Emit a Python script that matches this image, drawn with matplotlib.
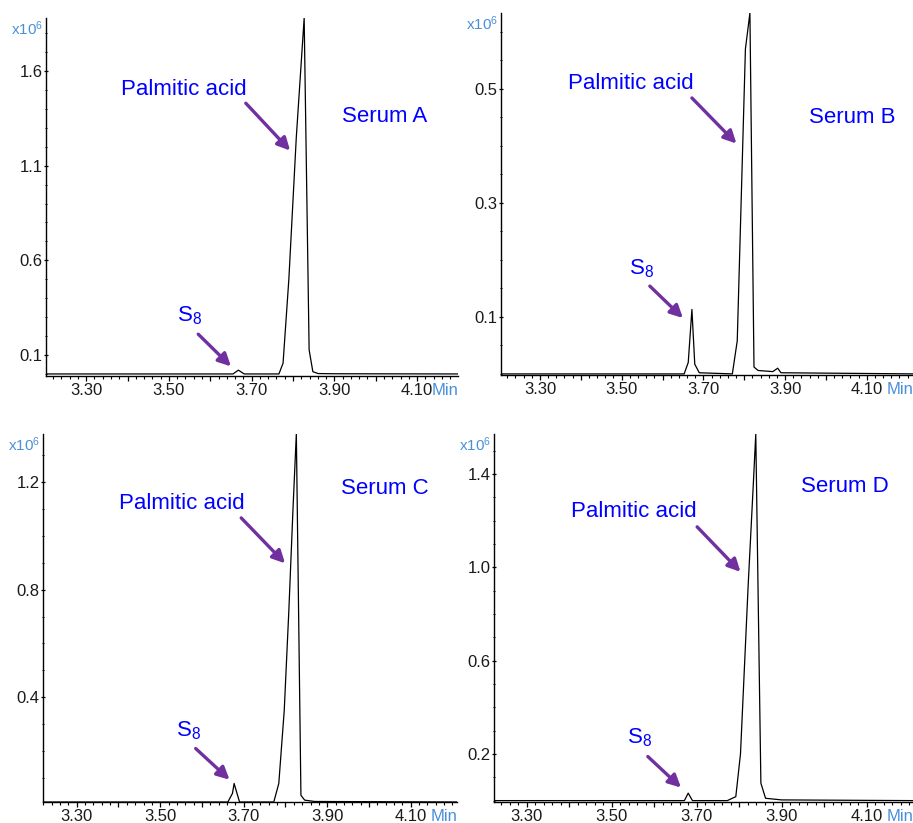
import numpy as np
import matplotlib
matplotlib.use('Agg')
import matplotlib.pyplot as plt
import matplotlib.ticker as mticker

plt.rcParams['font.family'] = ['Liberation Sans', 'DejaVu Sans']
plt.rcParams['mathtext.fontset'] = 'custom'
plt.rcParams['mathtext.rm'] = 'Liberation Sans'
plt.rcParams['mathtext.it'] = 'Liberation Sans'

#%% chromatogram traces (time in min, intensity x1e6)
time_a = [3.20, 3.655, 3.668, 3.682, 3.766, 3.776, 3.790, 3.808, 3.827, 3.839, 3.848, 3.861, 3.90, 4.20]
int_a = [0.0, 0.0, 0.02, 0.0, 0.0, 0.057, 0.5, 1.25, 1.88, 0.127, 0.012, 0.002, 0.001, 0.0]

time_b = [3.20, 3.653, 3.663, 3.672, 3.679, 3.690, 3.771, 3.783, 3.795, 3.803, 3.814, 3.824,
          3.834, 3.870, 3.882, 3.890, 4.22]
int_b = [0.0, 0.0, 0.02, 0.113, 0.017, 0.002, 0.0, 0.058, 0.365, 0.57, 0.633, 0.012,
         0.006, 0.004, 0.01, 0.002, 0.0]

time_c = [3.21, 3.662, 3.673, 3.677, 3.690, 3.772, 3.784, 3.797, 3.808, 3.818, 3.826, 3.837,
          3.846, 3.870, 4.22]
int_c = [0.01, 0.01, 0.042, 0.079, 0.01, 0.01, 0.079, 0.35, 0.72, 1.10, 1.38, 0.035,
         0.017, 0.012, 0.01]

time_d = [3.22, 3.671, 3.680, 3.690, 3.772, 3.792, 3.803, 3.821, 3.833, 3.839, 3.851, 3.862, 3.90, 4.21]
int_d = [0.0, 0.0, 0.032, 0.0, 0.0, 0.017, 0.2, 0.92, 1.35, 1.572, 0.075, 0.01, 0.003, 0.0]

labels = ['Serum A', 'Serum B', 'Serum C', 'Serum D']
yticks_a = [0.1, 0.6, 1.1, 1.6]
yticks_b = [0.1, 0.3, 0.5]
yticks_c = [0.4, 0.8, 1.2]
yticks_d = [0.2, 0.6, 1.0, 1.4]
xticks = [3.30, 3.40, 3.50, 3.60, 3.70, 3.80, 3.90, 4.00, 4.10]
xlabeled = [3.30, 3.50, 3.70, 3.90, 4.10]

blue = '#0000FF'
purple = '#7030A0'
lightblue = '#4A90D9'

#%% layout: axes rect, xlim, ylim, minor y step, annotation spots
panels = [
    dict(t=time_a, y=int_a, name=labels[0], yt=yticks_a, rect=[0.0504, 0.5431, 0.4513, 0.4350],
         xlim=(3.203, 4.199), ylim=(-0.011, 1.88), ymin=0.1,
         pa=(3.385, 1.50), pa_arrow=((3.686, 1.43), (3.793, 1.18)), serum=(3.918, 1.36),
         s8=(3.52, 0.31), s8_arrow=((3.571, 0.21), (3.650, 0.04))),
    dict(t=time_b, y=int_b, name=labels[1], yt=yticks_b, rect=[0.5487, 0.5443, 0.4513, 0.4399],
         xlim=(3.2045, 4.2133), ylim=(-0.002, 0.633), ymin=0.05,
         pa=(3.368, 0.509), pa_arrow=((3.672, 0.484), (3.781, 0.404)), serum=(3.958, 0.450),
         s8=(3.518, 0.185), s8_arrow=((3.569, 0.154), (3.650, 0.098))),
    dict(t=time_c, y=int_c, name=labels[2], yt=yticks_c, rect=[0.0471, 0.0255, 0.4535, 0.4471],
         xlim=(3.2193, 4.2109), ylim=(0.010, 1.379), ymin=0.1,
         pa=(3.401, 1.121), pa_arrow=((3.694, 1.067), (3.799, 0.898)), serum=(3.934, 1.176),
         s8=(3.537, 0.277), s8_arrow=((3.585, 0.209), (3.666, 0.093))),
    dict(t=time_d, y=int_d, name=labels[3], yt=yticks_d, rect=[0.5411, 0.0255, 0.4589, 0.4471],
         xlim=(3.223, 4.209), ylim=(-0.006, 1.572), ymin=0.1,
         pa=(3.404, 1.239), pa_arrow=((3.701, 1.174), (3.803, 0.981)), serum=(3.946, 1.346),
         s8=(3.537, 0.268), s8_arrow=((3.585, 0.189), (3.663, 0.056))),
]

fig = plt.figure(figsize=(9.13, 8.23), dpi=100)

arrowprops = dict(arrowstyle='-|>,head_length=0.75,head_width=0.38', lw=2.4, color=purple,
                  shrinkA=0, shrinkB=0)

for p in panels:
    ax = fig.add_axes(p['rect'])
    ax.plot(p['t'], p['y'], color='black', lw=0.9)
    ax.set_xlim(*p['xlim'])
    ax.set_ylim(*p['ylim'])

    for s in ['top', 'right']:
        ax.spines[s].set_visible(False)
    ax.spines['left'].set_linewidth(1.0)
    ax.spines['bottom'].set_linewidth(1.0)

    ax.xaxis.set_major_locator(mticker.FixedLocator(xticks))
    ax.xaxis.set_major_formatter(mticker.FuncFormatter(
        lambda v, pos: '%.2f' % v if any(abs(v - l) < 1e-6 for l in xlabeled) else ''))
    ax.xaxis.set_minor_locator(mticker.MultipleLocator(0.02))
    ax.yaxis.set_major_locator(mticker.FixedLocator(p['yt']))
    ax.yaxis.set_major_formatter(mticker.FormatStrFormatter('%.1f'))
    ax.yaxis.set_minor_locator(mticker.MultipleLocator(p['ymin']))

    ax.tick_params(axis='x', which='major', direction='out', length=3.5, width=0.9,
                   labelsize=12, labelcolor='#1a1a1a', pad=1.5)
    ax.tick_params(axis='x', which='minor', direction='out', length=1.8, width=0.8)
    ax.tick_params(axis='y', which='major', direction='inout', length=3, width=0.9,
                   labelsize=12, labelcolor='#1a1a1a', pad=1)
    ax.tick_params(axis='y', which='minor', direction='inout', length=2, width=0.7)

    # scale and unit labels
    ax.annotate('x10$^6$', xy=(0, 1), xycoords='axes fraction', xytext=(-3, -11),
                textcoords='offset pixels', ha='right', va='center', fontsize=11, color=lightblue)
    ax.annotate('Min', xy=(1, 0), xycoords='axes fraction', xytext=(0, -14),
                textcoords='offset pixels', ha='right', va='center', fontsize=12, color=lightblue,
                annotation_clip=False)

    # peak annotations
    ax.text(p['pa'][0], p['pa'][1], 'Palmitic acid', color=blue, fontsize=16, ha='left', va='center')
    ax.annotate('', xy=p['pa_arrow'][1], xytext=p['pa_arrow'][0], arrowprops=arrowprops)
    ax.text(p['serum'][0], p['serum'][1], p['name'], color=blue, fontsize=16, ha='left', va='center')
    ax.text(p['s8'][0], p['s8'][1], 'S$_8$', color=blue, fontsize=16, ha='left', va='center')
    ax.annotate('', xy=p['s8_arrow'][1], xytext=p['s8_arrow'][0], arrowprops=arrowprops)

fig.savefig('out.png', dpi=100)
